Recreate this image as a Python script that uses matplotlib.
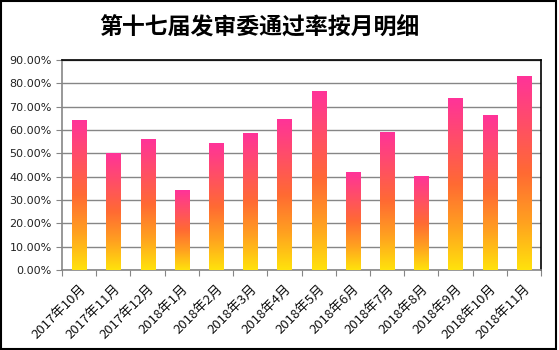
import matplotlib
matplotlib.use("Agg")
import matplotlib.pyplot as plt
import numpy as np
from matplotlib.colors import LinearSegmentedColormap
from matplotlib.patches import Rectangle
from matplotlib.ticker import FuncFormatter, MultipleLocator

plt.rcParams['font.family'] = ['Noto Sans CJK SC', 'DejaVu Sans']

title = "第十七届发审委通过率按月明细"
categories = ["2017年10月", "2017年11月", "2017年12月", "2018年1月", "2018年2月",
              "2018年3月", "2018年4月", "2018年5月", "2018年6月", "2018年7月",
              "2018年8月", "2018年9月", "2018年10月", "2018年11月"]
rates = [0.639, 0.500, 0.561, 0.339, 0.544, 0.583, 0.647, 0.767, 0.416, 0.591,
         0.399, 0.733, 0.664, 0.831]

fig = plt.figure(figsize=(5.59, 3.5), dpi=100)
ax = fig.add_axes([62/559, 80/350, 479/559, 210/350])

cmap = LinearSegmentedColormap.from_list(
    "grad", [(0.0, "#FFE20C"), (0.25, "#FFA020"), (0.5, "#FF6A33"), (1.0, "#FF3399")])
grad = np.linspace(0, 1, 256).reshape(-1, 1)

x = np.arange(len(categories))
width = 0.41
bars = ax.bar(x, rates, width=width, color="none", edgecolor="none", zorder=3)
for b in bars:
    x0, y0 = b.get_x(), b.get_y()
    w, h = b.get_width(), b.get_height()
    ax.imshow(grad, cmap=cmap, origin="lower", aspect="auto",
              extent=[x0, x0 + w, y0, y0 + h], zorder=3, interpolation="bilinear")

ax.set_xlim(-0.5, len(categories) - 0.5)
ax.set_ylim(0, 0.9)
ax.yaxis.set_major_locator(MultipleLocator(0.1))
ax.yaxis.set_major_formatter(FuncFormatter(lambda v, p: f"{v*100:.2f}%"))
ax.grid(axis="y", color="#868686", linewidth=1.0, zorder=1)
ax.set_axisbelow(True)

ax.set_xticks(np.arange(len(categories) + 1) - 0.5, minor=False)
ax.set_xticklabels([])
ax.set_xticks(x, minor=True)
ax.set_xticklabels(categories, minor=True, rotation=45, ha="right", va="top",
                   rotation_mode="anchor", fontsize=9.5, color="#111111")
ax.tick_params(axis="x", which="major", length=4, color="#868686", direction="out")
ax.tick_params(axis="x", which="minor", length=0, pad=9)
ax.tick_params(axis="y", length=4, color="#868686", labelsize=8, labelcolor="#222222")
for lbl in ax.get_yticklabels():
    lbl.set_family("DejaVu Sans")

ax.spines["left"].set_color("#868686")
ax.spines["bottom"].set_color("#868686")
ax.spines["top"].set_color("black")
ax.spines["right"].set_color("black")
for s in ax.spines.values():
    s.set_linewidth(1.2)

fig.text(259/559, 1 - 27/350, title, ha="center", va="center", fontsize=16.5,
         fontweight="bold", color="black")

fig.patches.append(Rectangle((0.002, 0.004), 0.992, 0.992, transform=fig.transFigure,
                             fill=False, edgecolor="black", linewidth=1.5))

fig.savefig("out.png", dpi=100)
